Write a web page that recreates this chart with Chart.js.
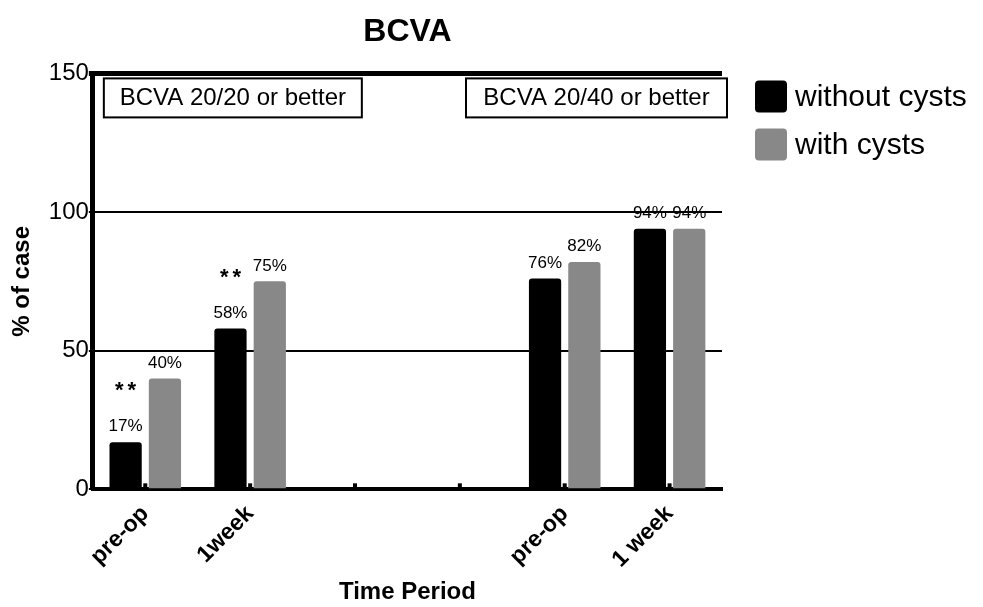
<!DOCTYPE html>
<html>
<head>
<meta charset="utf-8">
<script src="https://cdn.jsdelivr.net/npm/chart.js@4/dist/chart.umd.min.js"></script>
<style>
  body { margin: 0; background: #fff; }
</style>
</head>
<body>
<canvas id="myChart" width="983" height="607"></canvas>
<script>
// Chart data
const categories = ['pre-op', '1week', '', '', 'pre-op', '1 week'];
const withoutCysts = [17, 58, null, null, 76, 94];
const withCysts = [40, 75, null, null, 82, 94];
const significance = ['**', '**', '', '', '', ''];
const yTicks = [0, 50, 100, 150];
const panelLabels = ['BCVA 20/20 or better', 'BCVA 20/40 or better'];

const FONT = '"Liberation Sans", Arial, sans-serif';

// draws % labels, ** marks, the two boxed panel labels and the legend
const annotations = {
    id: 'annotations',
    afterDatasetsDraw(chart) {
        const c = chart.ctx;
        const area = chart.chartArea;
        c.save();

        // small inward tick marks on the x axis
        c.fillStyle = '#000';
        chart.scales.x.ticks.forEach((t, i) => {
            const px = chart.scales.x.getPixelForTick(i);
            c.fillRect(px - 2, area.bottom - 6, 4, 6);
        });

        c.textAlign = 'center';
        c.textBaseline = 'bottom';
        c.font = '17px ' + FONT;
        chart.data.datasets.forEach((ds, di) => {
            chart.getDatasetMeta(di).data.forEach((bar, i) => {
                if (ds.data[i] == null) return;
                c.fillText(ds.data[i] + '%', bar.x, bar.y - 7);
                if (di === 0 && significance[i]) {
                    c.font = 'bold 22px ' + FONT;
                    c.letterSpacing = '4px';
                    c.fillText(significance[i], bar.x + 2, bar.y - 40);
                    c.letterSpacing = '0px';
                    c.font = '17px ' + FONT;
                }
            });
        });

        // panel label boxes
        c.font = '24px ' + FONT;
        c.lineWidth = 2;
        c.textBaseline = 'middle';
        const boxes = [
            { x: area.left + 11, w: 258 },
            { x: area.right - 256, w: 261 }
        ];
        boxes.forEach((b, i) => {
            c.fillStyle = '#fff';
            c.fillRect(b.x, area.top + 5, b.w, 39);
            c.strokeRect(b.x, area.top + 5, b.w, 39);
            c.fillStyle = '#000';
            c.fillText(panelLabels[i], b.x + b.w / 2, area.top + 25);
        });

        // legend
        c.font = '30px ' + FONT;
        c.textAlign = 'left';
        chart.data.datasets.forEach((ds, di) => {
            const bx = area.right + 33;
            const by = area.top + 7 + di * 48;
            c.fillStyle = ds.backgroundColor;
            c.beginPath();
            c.roundRect(bx, by, 32, 32, 4);
            c.fill();
            c.fillStyle = '#000';
            c.fillText(ds.label, bx + 40, by + 17);
        });
        c.restore();
    }
};

const ctx = document.getElementById('myChart').getContext('2d');

const myChart = new Chart(ctx, {
    type: 'bar',
    data: {
        labels: categories,
        datasets: [{
            label: 'without cysts',
            data: withoutCysts,
            backgroundColor: '#000000',
            borderRadius: { topLeft: 3, topRight: 3 },
            borderSkipped: 'bottom'
        }, {
            label: 'with cysts',
            data: withCysts,
            backgroundColor: '#888888',
            borderRadius: { topLeft: 3, topRight: 3 },
            borderSkipped: 'bottom'
        }]
    },
    plugins: [annotations],
    options: {
        responsive: false,
        animation: false,
        categoryPercentage: 0.75,
        barPercentage: 0.82,
        layout: { padding: { left: 8, right: 261, top: 11, bottom: 0 } },
        plugins: {
            title: {
                display: true,
                text: 'BCVA',
                fullSize: false,
                color: '#000',
                font: { family: FONT, size: 32, weight: 'bold' },
                padding: { top: 2, bottom: 22 }
            },
            legend: { display: false },
            tooltip: { enabled: false }
        },
        scales: {
            x: {
                grid: { display: false },
                border: { color: '#000', width: 4 },
                ticks: {
                    color: '#000',
                    maxRotation: 45,
                    minRotation: 45,
                    font: { family: FONT, size: 23, weight: 'bold' }
                },
                title: {
                    display: true,
                    text: 'Time Period',
                    color: '#000',
                    font: { family: FONT, size: 24, weight: 'bold' },
                    padding: { top: 2, bottom: 0 }
                }
            },
            y: {
                min: 0,
                max: 150,
                afterBuildTicks: axis => { axis.ticks = yTicks.map(v => ({ value: v })); },
                grid: {
                    color: '#000',
                    lineWidth: c => (c.tick && c.tick.value === 150 ? 5 : 2),
                    drawTicks: true,
                    tickLength: 4
                },
                border: { color: '#000', width: 5 },
                ticks: {
                    color: '#000',
                    padding: 0,
                    font: { family: FONT, size: 24 }
                },
                title: {
                    display: true,
                    text: '% of case',
                    color: '#000',
                    font: { family: FONT, size: 24, weight: 'bold' },
                    padding: { top: 0, bottom: 12 }
                }
            }
        }
    }
});
</script>
</body>
</html>
